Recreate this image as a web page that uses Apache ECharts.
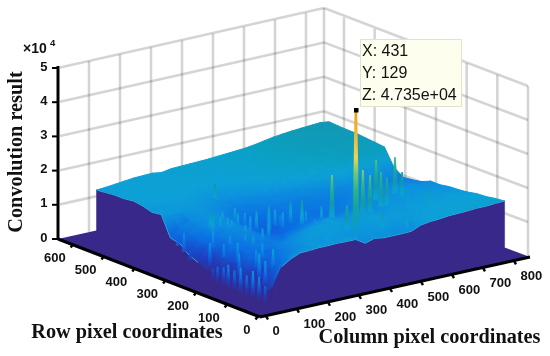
<!DOCTYPE html>
<html><head><meta charset="utf-8">
<style>html,body{margin:0;padding:0;background:#fff}#c{width:550px;height:356px}</style>
<script src="https://cdn.jsdelivr.net/npm/echarts@6/dist/echarts.min.js"></script>
</head><body><div id="c"></div>
<script>
// ---------- data ----------
var gridCols = [115,145,175,205,235,265,295,325,355,385,415,445,475,505,535,565,595,625,655,685,715,745,775,805,835,865];
var gridRows = [83,113,143,173,203,233,263,293,323,353,383,413,443,473,503,533,563,593,623,653];
var surfaceZ = [
[.3,.88,1.05,1.17,1.18,1.2,1.2,1.21,1.2,1.2,1.03,1.11,1.07,1.07,1.07,1.08,1.2,1.24,1.26,1.29,1.3,1.31,1.33,1.33,1.35,1.36],
[.05,.45,.8,1.0,1.08,1.12,1.14,1.15,1.14,1.16,1.1,1.12,1.12,1.15,1.14,1.15,1.2,1.22,1.24,1.26,1.27,1.29,1.3,1.3,1.32,1.33],
[.05,.3,.55,.85,1.0,1.1,1.17,1.16,1.19,1.18,1.16,1.14,1.16,1.18,1.2,1.19,1.22,1.22,1.23,1.24,1.25,1.26,1.27,1.28,1.29,1.28],
[.05,.35,.5,.7,.9,1.05,1.12,1.2,1.22,1.21,1.2,1.18,1.2,1.22,1.24,1.21,1.2,1.2,1.22,1.22,1.24,1.24,1.25,1.26,1.26,1.26],
[.05,.45,.65,.8,.85,.95,1.0,1.1,1.18,1.2,1.21,1.18,1.16,1.18,1.2,1.18,1.16,1.18,1.18,1.2,1.2,1.21,1.21,1.22,1.21,1.2],
[.05,.4,.7,.85,.9,.88,.85,.92,.98,1.05,1.12,1.15,1.12,1.1,1.14,1.12,1.1,1.12,1.15,1.16,1.17,1.18,1.18,1.18,1.17,1.17],
[.05,.5,.75,.9,.95,.9,.82,.8,.85,.88,.95,1.0,1.02,1.0,1.02,1.04,1.02,1.06,1.1,1.12,1.14,1.15,1.15,1.15,1.14,1.15],
[.05,.45,.8,.95,1.0,.92,.8,.72,.7,.75,.82,.85,.88,.85,.9,.92,.95,1.0,1.05,1.08,1.1,1.12,1.12,1.12,1.1,1.1],
[.23,.6,.85,1.0,1.05,.95,.78,.68,.65,.68,.75,.8,.82,.8,.85,.88,.92,.95,1.0,1.04,1.06,1.08,1.1,1.1,1.08,1.1],
[.34,.7,.95,1.05,1.08,.98,.8,.7,.66,.68,.74,.8,.82,.82,.85,.88,.9,.93,.98,1.0,1.02,1.03,1.03,1.02,1.0,.98],
[.58,.8,1.0,1.1,1.1,1.02,.85,.76,.72,.72,.78,.82,.85,.85,.88,.9,.9,.92,.96,.98,.98,.98,.97,.95,.94,.93],
[.63,.85,1.02,1.12,1.12,1.06,.95,.86,.82,.82,.86,.9,.92,.92,.92,.95,.98,1.0,1.02,1.02,1.0,.98,.96,.94,.92,.9],
[1.21,1.15,1.14,1.15,1.15,1.12,1.05,.98,.95,.95,.98,1.02,1.04,1.05,1.08,1.12,1.16,1.2,1.25,1.28,1.28,1.26,1.24,1.2,1.15,1.1],
[1.17,1.18,1.18,1.2,1.2,1.18,1.14,1.1,1.08,1.08,1.1,1.14,1.18,1.2,1.25,1.3,1.35,1.4,1.45,1.5,1.52,1.54,1.55,1.56,1.56,1.57],
[1.25,1.23,1.22,1.23,1.23,1.22,1.2,1.18,1.17,1.17,1.2,1.22,1.26,1.3,1.34,1.38,1.42,1.46,1.5,1.54,1.56,1.58,1.59,1.6,1.6,1.6],
[1.29,1.27,1.26,1.26,1.26,1.26,1.25,1.24,1.24,1.25,1.26,1.28,1.32,1.35,1.38,1.42,1.46,1.5,1.54,1.57,1.59,1.6,1.61,1.62,1.62,1.62],
[1.25,1.26,1.27,1.28,1.28,1.28,1.28,1.28,1.29,1.3,1.3,1.32,1.35,1.37,1.4,1.44,1.48,1.52,1.56,1.59,1.61,1.62,1.63,1.64,1.65,1.65],
[1.25,1.26,1.28,1.29,1.3,1.3,1.3,1.3,1.31,1.32,1.33,1.34,1.36,1.38,1.41,1.45,1.49,1.53,1.57,1.6,1.62,1.64,1.65,1.66,1.66,1.65],
[1.22,1.24,1.26,1.28,1.29,1.3,1.31,1.3,1.32,1.33,1.34,1.35,1.37,1.38,1.42,1.44,1.47,1.51,1.55,1.59,1.62,1.64,1.66,1.67,1.69,1.66],
[1.19,1.21,1.24,1.27,1.3,1.31,1.32,1.28,1.33,1.34,1.35,1.36,1.37,1.39,1.41,1.43,1.45,1.49,1.54,1.59,1.62,1.65,1.67,1.69,1.71,1.68]
];
var spikeCols = [431,474,427,433,666,632,651,727,730,544,567,519,577,731,390,406,364,419,310,322,189,213,228,190,231,259,325,
                 140,150,170,135,160,185,145,175,200,130,205,160,
                 210,250,280,300,330,350,370,395,430,450,480,300,260,235,210];
var spikeRows = [129,250,300,160,300,250,250,300,280,220,220,130,110,200,350,350,340,250,400,380,350,350,340,360,330,300,480,
                 130,160,190,210,240,150,270,280,200,300,260,320,
                 390,380,360,340,350,330,350,330,340,310,290,280,260,290,240];
var spikeTips = [4.735,2.32,1.51,1.84,2.2,2.09,1.88,2.16,1.79,2.43,2.24,1.57,1.38,1.54,1.12,.94,.91,1.12,1.16,1.06,1.46,1.27,1.24,1.28,1.21,1.06,1.58,
                 .9,1.0,.95,.85,1.0,1.1,.9,1.05,1.05,.85,1.1,1.05,
                 1.15,1.25,1.2,1.15,1.2,1.05,1.25,1.1,1.3,1.1,1.25,1.15,1.15,1.2,1.1];
var fringeCols = [116,116,116,80,80,80,80,80,80,80,85,85,90];
var fringeRows = [370,391,350,70,90,110,130,150,170,190,210,230,250];
var fringeTips = [.92,.64,.5,.5,.7,.8,.6,.75,.6,.7,.55,.5,.35];
var rowTicks = [0,100,200,300,400,500,600];
var colTicks = [0,100,200,300,400,500,600,700,800];
var zTicks = [0,1,2,3,4,5];
var tipLines = ['X: 431','Y: 129','Z: 4.735e+04'];

// ---------- projection of the MATLAB box onto the page plane ----------
function P(c,r,z){return [262+.31*c-.308*r, 317-.0688*c-.12*r-34.2*z];}
function leftWall(c,z){return [58+.31*c, 239-.0688*c-34.2*z];}
function rightWall(r,z){return [528-.3067*r, 256-.1143*r-34*z];}
var BK=[324,180], LT=[58,239], FR=[530,257], FC=[260,317];
function rowAxis(r){return [257-.308*r,318-.12*r];}
function colAxis(c){return [267+.31*c,319-.0688*c];}

var stops=[[0,[53,42,135]],[.35,[30,60,190]],[.75,[10,110,228]],[1.0,[12,135,224]],[1.25,[12,160,216]],[1.5,[10,160,195]],[1.75,[18,150,175]],
 [2.2,[25,170,150]],[2.7,[60,190,130]],[3.1,[150,205,110]],[3.4,[240,210,90]],[4.1,[242,180,50]],[4.75,[232,155,25]]];
function col(z){z=Math.max(0,Math.min(4.75,z));for(var k=1;k<stops.length;k++){if(z<=stops[k][0]){var a=stops[k-1],b=stops[k],t=(z-a[0])/(b[0]-a[0]);
 return 'rgb('+[0,1,2].map(function(q){return Math.round(a[1][q]+t*(b[1][q]-a[1][q]));}).join(',')+')';}}return 'rgb(232,155,25)';}
function surf(c,r){
 if(c<gridCols[0]||r<gridRows[0])return 0;
 var i=Math.min(24,Math.floor((c-115)/30)),j=Math.min(18,Math.floor((r-83)/30));
 var u=(c-gridCols[i])/30,v=(r-gridRows[j])/30,Z=surfaceZ;
 return (1-v)*((1-u)*Z[j][i]+u*Z[j][i+1])+v*((1-u)*Z[j+1][i]+u*Z[j+1][i+1]);
}
function cellOf(c,r){return [Math.min(24,Math.floor((c-115)/30)),Math.min(18,Math.floor((r-83)/30))];}

// ---------- draw list, back to front ----------
var items=[];
for(var j=18;j>=0;j--)for(var i=24;i>=0;i--){
 items.push([0,i,j]);
 spikeCols.forEach(function(c,k){var q=cellOf(c,spikeRows[k]);if(q[0]===i&&q[1]===j)items.push([1,k,0]);});
}
items.push([2,0,0]);
fringeCols.forEach(function(c,k){items.push([4,k,0]);});

function spikeShape(api,c,r,t,bw){
 var b=surf(c,r),base=P(c,r,Math.max(0,b-.12)),tip=P(c,r,t),big=t>4,tw=big?1.3:.8;
 var w=Math.min(bw,1.6+1.5*(t-b));
 var cs=[],boost=big?1:1.55;for(var n=0;n<=8;n++){cs.push({offset:n/8,color:col(b+(t-b)*boost*n/8)});}
 var a=api.coord([base[0],base[1]]),e=api.coord([tip[0],tip[1]]);
 return {type:'polygon',shape:{points:[[a[0]-w,a[1]],[e[0]-tw,e[1]],[e[0]+tw,e[1]],[a[0]+w,a[1]]]},
  style:{fill:{type:'linear',global:true,x:a[0],y:a[1],x2:e[0],y2:e[1],colorStops:cs}}};
}
function renderSurface(params,api){
 var kind=api.value(0),a=api.value(1),b=api.value(2),Z=surfaceZ;
 function C(p){return api.coord(p);}
 if(kind===0){
  var i=a,j=b,c0=gridCols[i],c1=gridCols[i+1],r0=gridRows[j],r1=gridRows[j+1];
  var p00=C(P(c0,r0,Z[j][i])),p10=C(P(c1,r0,Z[j][i+1])),p11=C(P(c1,r1,Z[j+1][i+1])),p01=C(P(c0,r1,Z[j+1][i]));
  var zs=[Z[j][i],Z[j][i+1],Z[j+1][i+1],Z[j+1][i]],m=(zs[0]+zs[1]+zs[2]+zs[3])/4;
  var lo=Math.min.apply(null,zs),hi=Math.max.apply(null,zs),il=zs.indexOf(lo),ih=zs.indexOf(hi),pts=[p00,p10,p11,p01];
  var fill=col(m);
  if(hi-lo>.02&&(pts[il][0]!==pts[ih][0]||pts[il][1]!==pts[ih][1]))
   fill={type:'linear',global:true,x:pts[il][0],y:pts[il][1],x2:pts[ih][0],y2:pts[ih][1],colorStops:[{offset:0,color:col(lo)},{offset:.5,color:col((lo+hi)/2)},{offset:1,color:col(hi)}]};
  return {type:'polygon',shape:{points:pts},style:{fill:fill,stroke:fill,lineWidth:1}};
 }
 if(kind===1)return spikeShape(api,spikeCols[a],spikeRows[a],spikeTips[a],a===0?3.5:3.2);
 if(kind===2){
  var pl=[];
  gridRows.forEach(function(r,j){pl.push(C(P(115,r,Z[j][0])));});
  for(var j2=gridRows.length-1;j2>=0;j2--)pl.push(C(P(115,gridRows[j2],0)));
  var pr=[];
  gridCols.forEach(function(c,i){pr.push(C(P(c,83,Z[0][i])));});
  for(var i2=gridCols.length-1;i2>=0;i2--)pr.push(C(P(gridCols[i2],83,0)));
  var rimL=[],rimF=[];
  gridRows.forEach(function(r,j){rimL.push(C(P(115,r,Z[j][0])));});
  gridCols.forEach(function(c,i){rimF.push(C(P(c,83,Z[0][i])));});
  return {type:'group',children:[
   {type:'polygon',shape:{points:pl},style:{fill:'#37288a',stroke:'#37288a',lineWidth:.5}},
   {type:'polygon',shape:{points:pr},style:{fill:'#37288a',stroke:'#37288a',lineWidth:.5}},
   {type:'polyline',shape:{points:rimL.slice(8)},style:{fill:null,stroke:'#27aee0',lineWidth:1}},
   {type:'polyline',shape:{points:rimF.slice(1)},style:{fill:null,stroke:'#27aee0',lineWidth:1}}
  ]};
 }
 return spikeShape(api,fringeCols[a],fringeRows[a],fringeTips[a],2.6);
}

// ---------- box walls ----------
var wallItems=[];
[1,2,3,4,5].forEach(function(z,k){wallItems.push([0,z]);wallItems.push([1,z]);});
colTicks.slice(1).forEach(function(c){wallItems.push([2,c]);});
rowTicks.forEach(function(r){wallItems.push([3,r]);});
wallItems.push([4,0]);
function renderWall(params,api){
 var k=api.value(0),v=api.value(1),A,B;
 var s=function(a,b){var p=api.coord(a),q=api.coord(b);return {type:'line',shape:{x1:p[0],y1:p[1],x2:q[0],y2:q[1]},style:{stroke:'rgba(0,0,0,.17)',lineWidth:2.6}};};
 if(k===0)return s([60,239-.44-34.2*v],[324,180-34.4*v]);
 if(k===1)return s([324,180-34.4*v],[528,256-34*v]);
 if(k===2){A=leftWall(v,0);B=leftWall(v,5);return s(A,B);}
 if(k===3){A=rightWall(v,0);B=rightWall(v,5);return s(A,B);}
 return s([324,180],[324,8]);
}

// ---------- black axes, ticks, labels ----------
var axisItems=[];
zTicks.forEach(function(z){axisItems.push([0,z]);});
rowTicks.forEach(function(r){axisItems.push([1,r]);});
colTicks.forEach(function(c){axisItems.push([2,c]);});
axisItems.push([3,0]);
var tickFont='bold 13px "Liberation Sans", Arial, sans-serif';
function renderAxis(params,api){
 var k=api.value(0),v=api.value(1);
 function ln(a,b,w){var p=api.coord(a),q=api.coord(b);return {type:'line',shape:{x1:p[0],y1:p[1],x2:q[0],y2:q[1]},style:{stroke:'#000',lineWidth:w}};}
 function tx(p,str,al){var q=api.coord(p);return {type:'text',style:{x:q[0],y:q[1],text:str,font:tickFont,fill:'#111',align:al,verticalAlign:'middle'}};}
 if(k===0){var y=239-34.2*v;return {type:'group',children:[ln([52,y],[58,y],2),tx([47.5,y-1],String(v),'right')]};}
 if(k===1){var p=rowAxis(v);return {type:'group',children:[ln([p[0]+1,p[1]-2],[p[0]-1.5,p[1]+1.5],2.4),tx([p[0]-6.5,p[1]+12],String(v),'right')]};}
 if(k===2){var c=colAxis(v);return {type:'group',children:[ln([c[0]-1,c[1]-3],[c[0]+1,c[1]+.5],2.4),tx([c[0]+5.5,c[1]+12.5],String(v),'left')]};}
 return {type:'group',children:[ln([58,66],[58,239.5],3),ln(LT,FC,3),ln(FC,FR,3)]};
}

var floorPts=[LT,BK,FR,FC];
var tipFont='16px "Liberation Sans", Arial, sans-serif', titleFont='bold 20.3px "Liberation Serif", serif';
var option={
 animation:false,
 grid:{left:0,right:0,top:0,bottom:0},
 xAxis:{type:'value',min:0,max:550,show:false},
 yAxis:{type:'value',min:0,max:356,inverse:true,show:false},
 graphic:[
  {type:'rect',z:50,shape:{x:360.5,y:39.5,width:101,height:67},style:{fill:'#fefeee',stroke:'#e2e2cc',lineWidth:1}},
  {type:'text',z:51,style:{x:362,y:52,text:tipLines[0],font:tipFont,fill:'#111',verticalAlign:'middle'}},
  {type:'text',z:51,style:{x:362,y:74,text:tipLines[1],font:tipFont,fill:'#111',verticalAlign:'middle'}},
  {type:'text',z:51,style:{x:362,y:96,text:tipLines[2],font:tipFont,fill:'#111',verticalAlign:'middle'}},
  {type:'rect',z:52,shape:{x:354,y:108,width:4.5,height:4.5},style:{fill:'#000'}},
  {type:'text',z:51,style:{x:23,y:49,text:'×10',font:'bold 14px "Liberation Sans", Arial, sans-serif',fill:'#111',verticalAlign:'middle'}},
  {type:'text',z:51,style:{x:50,y:43,text:'4',font:'bold 9.5px "Liberation Sans", Arial, sans-serif',fill:'#111',verticalAlign:'middle'}},
  {type:'text',z:51,x:17,y:152,rotation:Math.PI/2,style:{text:'Convolution result',font:titleFont,fill:'#111',align:'center',verticalAlign:'middle'}},
  {type:'text',z:51,style:{x:127,y:333,text:'Row pixel coordinates',font:titleFont,fill:'#111',align:'center',verticalAlign:'middle'}},
  {type:'text',z:51,style:{x:429.5,y:338,text:'Column pixel coordinates',font:titleFont,fill:'#111',align:'center',verticalAlign:'middle'}}
 ],
 series:[
  {type:'custom',silent:true,clip:false,z:1,renderItem:renderWall,data:wallItems,progressive:0},
  {type:'custom',silent:true,clip:false,z:2,data:[[0]],progressive:0,renderItem:function(p,api){
    return {type:'polygon',shape:{points:floorPts.map(function(q){return api.coord(q);})},style:{fill:'#37288a'}};}},
  {type:'custom',silent:true,clip:false,z:3,renderItem:renderSurface,data:items,progressive:0},
  {type:'custom',silent:true,clip:false,z:4,renderItem:renderAxis,data:axisItems,progressive:0}
 ]
};
echarts.init(document.getElementById('c'),null,{renderer:'canvas'}).setOption(option);
</script></body></html>
